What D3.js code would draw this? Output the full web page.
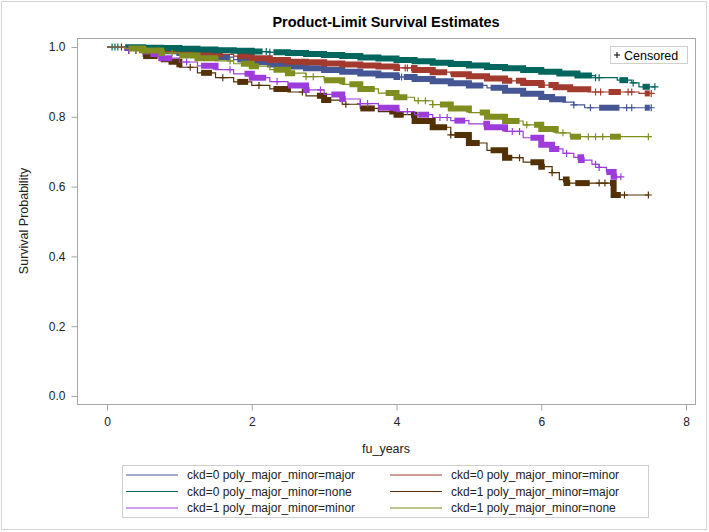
<!DOCTYPE html>
<html><head><meta charset="utf-8">
<script src="https://cdn.jsdelivr.net/npm/d3@7"></script>
<style>body{margin:0;background:#fff}svg{display:block;font-family:"Liberation Sans",Arial,sans-serif}</style>
</head><body><svg id="c" width="709" height="532"></svg>
<script>
// ---------- data ----------
const seriesNames = ["ckd=0 poly_major_minor=major","ckd=0 poly_major_minor=minor","ckd=0 poly_major_minor=none","ckd=1 poly_major_minor=major","ckd=1 poly_major_minor=minor","ckd=1 poly_major_minor=none"];
const seriesColors = ["#445694","#A23A2E","#01665E","#543005","#9D3CDB","#7F8E1F"];
const xTicks = [0,2,4,6,8];
const yTicks = [0,0.2,0.4,0.6,0.8,1.0];

// step points [time, survival]
const s1 = [[0,1],[0.25,0.997],[0.5,0.993],[0.75,0.988],[1,0.983],[1.25,0.977],[1.5,0.971],[1.75,0.964],[2,0.957],[2.25,0.95],[2.5,0.944],[2.75,0.939],[3,0.934],[3.25,0.929],[3.5,0.924],[3.75,0.919],[4,0.914],[4.25,0.908],[4.5,0.902],[4.75,0.896],[5,0.89],[5.25,0.883],[5.5,0.875],[5.75,0.866],[6,0.857],[6.15,0.85],[6.3,0.842],[6.45,0.834],[6.6,0.826]];
const s2 = [[0,1],[0.25,0.998],[0.5,0.996],[0.75,0.993],[1,0.989],[1.25,0.984],[1.5,0.979],[1.75,0.974],[2,0.968],[2.25,0.963],[2.5,0.958],[2.75,0.956],[3,0.953],[3.25,0.95],[3.5,0.947],[3.75,0.944],[4,0.94],[4.25,0.934],[4.5,0.928],[4.75,0.922],[5,0.916],[5.25,0.91],[5.5,0.903],[5.75,0.897],[6,0.891],[6.2,0.885],[6.4,0.879],[6.65,0.871],[7.35,0.867]];
const s3 = [[0,1],[0.25,0.999],[0.5,0.998],[0.75,0.997],[1,0.995],[1.25,0.993],[1.5,0.991],[1.75,0.989],[2,0.987],[2.25,0.985],[2.5,0.983],[2.75,0.98],[3,0.977],[3.25,0.974],[3.5,0.97],[3.75,0.967],[4,0.963],[4.25,0.959],[4.5,0.955],[4.75,0.951],[5,0.947],[5.25,0.943],[5.5,0.939],[5.75,0.934],[6,0.929],[6.25,0.924],[6.5,0.918],[6.75,0.912],[7.05,0.905],[7.25,0.897],[7.35,0.886]];
const s4 = [[0,1],[0.25,0.99],[0.5,0.974],[0.75,0.958],[1,0.942],[1.25,0.926],[1.5,0.912],[1.75,0.9],[2,0.89],[2.25,0.88],[2.5,0.871],[2.75,0.86],[3,0.848],[3.25,0.836],[3.5,0.824],[3.75,0.815],[4,0.806],[4.25,0.788],[4.5,0.77],[4.75,0.748],[5,0.725],[5.25,0.704],[5.5,0.683],[5.75,0.67],[6,0.657],[6.15,0.64],[6.25,0.62],[6.35,0.61],[7.0,0.576]];
const s5 = [[0,1],[0.25,0.992],[0.5,0.98],[0.75,0.968],[1,0.957],[1.25,0.946],[1.5,0.935],[1.75,0.923],[2,0.912],[2.25,0.901],[2.5,0.89],[2.75,0.877],[3,0.864],[3.25,0.851],[3.5,0.838],[3.75,0.826],[4,0.815],[4.25,0.806],[4.5,0.798],[4.75,0.789],[5,0.78],[5.25,0.77],[5.5,0.758],[5.75,0.74],[6,0.72],[6.15,0.708],[6.3,0.695],[6.45,0.684],[6.55,0.676],[6.7,0.664],[6.8,0.655],[6.9,0.642],[7.0,0.628]];
const s6 = [[0,1],[0.25,0.996],[0.5,0.99],[0.75,0.983],[1,0.976],[1.25,0.968],[1.5,0.96],[1.75,0.952],[2,0.945],[2.25,0.935],[2.5,0.925],[2.75,0.915],[3,0.905],[3.25,0.893],[3.5,0.88],[3.75,0.868],[4,0.856],[4.25,0.846],[4.5,0.835],[4.75,0.824],[5,0.812],[5.25,0.8],[5.5,0.788],[5.75,0.777],[6,0.765],[6.2,0.754],[6.4,0.743]];
const seriesEnd = [7.52, 7.52, 7.57, 7.48, 7.1, 7.48];

// isolated censored times
const c1 = [4.07,6.45,6.68,7.18,7.25,7.52];
const c2 = [4.12,4.15,6.75,6.82,7.2,7.25,7.52];
const c3 = [0.07,0.11,0.15,2.2,2.25,6.75,6.8,7.27,7.57];
const c4 = [0.2,0.3,0.4,1.15,1.6,2.1,2.7,3.3,4.75,5.7,6.15,6.8,6.88,7.15,7.48];
const c5 = [0.3,0.45,1.1,1.7,2.35,2.95,3.5,3.6,4.15,4.6,4.7,5.6,5.7,6.35,6.75,6.8,7.1];
const c6 = [0.9,1.7,2.75,2.85,4.3,4.4,4.5,5.8,6.3,6.65,6.75,6.85,7.48];
// time spans with densely overlapping censored marks
const d1 = [[0.6,1.7],[1.8,4.05],[4.1,5.2],[5.3,6.3],[6.8,7.08],[7.43,7.5]];
const d2 = [[0.5,1.6],[1.8,4.05],[4.2,4.7],[4.75,5.6],[5.65,6.05],[6.1,6.65],[6.93,7.1],[7.43,7.5]];
const d3s = [[0.25,2.15],[2.3,6.7],[7.08,7.2],[7.4,7.5]];
const d4 = [[0.5,0.7],[0.85,1.0],[1.3,1.45],[1.8,1.95],[2.3,2.5],[2.9,3.1],[3.5,3.7],[3.9,4.1],[4.2,4.7],[4.8,5.15],[5.3,5.6],[5.85,6.05],[6.3,6.4],[6.47,6.67],[6.95,7.1]];
const d5 = [[0.6,0.9],[1.3,1.5],[1.9,2.2],[2.5,2.8],[3.1,3.3],[3.75,4.0],[4.3,4.45],[4.8,4.95],[5.2,5.5],[5.85,6.25],[6.5,6.6],[6.9,7.05]];
const d6 = [[0.3,0.8],[1.0,1.5],[1.85,2.1],[2.3,2.6],[3.0,3.25],[3.35,3.7],[3.85,4.15],[4.6,5.0],[5.15,5.7],[5.9,6.2],[6.4,6.55],[6.95,7.1]];

const steps = [s1,s2,s3,s4,s5,s6];
const censors = [c1,c2,c3,c4,c5,c6];
const dense = [d1,d2,d3s,d4,d5,d6];

// ---------- drawing ----------
const svg = d3.select("#c");
const W = 709, H = 532;
const frame = {l:77, r:695, t:38, b:404};
const x = d3.scaleLinear().domain([0,8]).range([107,686]);
const y = d3.scaleLinear().domain([0,1]).range([396,47]);

svg.append("rect").attr("x",1.5).attr("y",1.5).attr("width",W-4).attr("height",H-4)
  .attr("fill","#fff").attr("stroke","#d4d4d4");

svg.append("text").attr("x",(frame.l+frame.r)/2).attr("y",27).attr("text-anchor","middle")
  .attr("font-size",14.5).attr("font-weight","bold").attr("fill","#000")
  .text("Product-Limit Survival Estimates");

svg.append("rect").attr("x",frame.l+0.5).attr("y",frame.t+0.5)
  .attr("width",frame.r-frame.l).attr("height",frame.b-frame.t)
  .attr("fill","none").attr("stroke","#a6a6a6");

// axes
const gx = svg.append("g").attr("transform",`translate(0,${frame.b+0.5})`)
  .call(d3.axisBottom(x).tickValues(xTicks).tickFormat(d3.format("d")).tickSize(6).tickPadding(7));
const gy = svg.append("g").attr("transform",`translate(${frame.l+0.5},0)`)
  .call(d3.axisLeft(y).tickValues(yTicks).tickFormat(d3.format(".1f")).tickSize(6).tickPadding(6));
[gx,gy].forEach(g=>{
  g.select(".domain").remove();
  g.selectAll(".tick line").attr("stroke","#a6a6a6");
  g.selectAll(".tick text").attr("font-size",12).attr("fill","#222")
    .attr("font-family","'Liberation Sans',Arial,sans-serif");
});

svg.append("text").attr("x",(frame.l+frame.r)/2).attr("y",453).attr("text-anchor","middle")
  .attr("font-size",12.5).attr("fill","#222").text("fu_years");
svg.append("text").attr("transform",`translate(28,${(frame.t+frame.b)/2}) rotate(-90)`)
  .attr("text-anchor","middle").attr("font-size",12.5).attr("fill","#222").text("Survival Probability");

// curves
const line = d3.line().x(d=>x(d[0])).y(d=>y(d[1])).curve(d3.curveStepAfter);
const valAt = (pts,t)=>{let v=pts[0][1];for(const p of pts){if(p[0]<=t)v=p[1];}return v;};
const plot = svg.append("g");
steps.forEach((pts,i)=>{
  const col = seriesColors[i];
  const full = pts.concat([[seriesEnd[i], pts[pts.length-1][1]]]);
  const g = plot.append("g");
  g.append("path").attr("d",line(full)).attr("fill","none").attr("stroke",col).attr("stroke-width",1.2);
  dense[i].forEach(([a,b])=>{
    const sub = [[a,valAt(pts,a)]].concat(pts.filter(p=>p[0]>a&&p[0]<=b)).concat([[b,valAt(pts,b)]]);
    g.append("path").attr("d",line(sub)).attr("fill","none").attr("stroke",col)
      .attr("stroke-width",6).attr("stroke-linecap","butt").attr("stroke-linejoin","miter");
  });
  g.selectAll(".cm").data(censors[i]).join("path")
    .attr("d",t=>{const cx=x(t), cy=y(valAt(pts,t));return `M${cx-3.5},${cy}H${cx+3.5}M${cx},${cy-3.5}V${cy+3.5}`;})
    .attr("stroke",col).attr("stroke-width",1.2).attr("fill","none");
});

// censored inset legend
const cg = svg.append("g");
cg.append("rect").attr("x",610.5).attr("y",46.5).attr("width",77).attr("height",17)
  .attr("fill","#fff").attr("stroke","#cfcfcf");
cg.append("path").attr("d","M614,55H620M617,52V58").attr("stroke","#000").attr("stroke-width",1);
cg.append("text").attr("x",624).attr("y",59.5).attr("font-size",12.5).attr("fill","#000").text("Censored");

// bottom legend
const lg = svg.append("g");
lg.append("rect").attr("x",122.5).attr("y",465.5).attr("width",526).attr("height",52)
  .attr("fill","#fff").attr("stroke","#cfcfcf");
const colX = [126,390], rowY = [475,491.5,508];
seriesNames.forEach((nm,i)=>{
  const cx = colX[i%2], cy = rowY[Math.floor(i/2)];
  lg.append("line").attr("x1",cx).attr("x2",cx+52).attr("y1",cy).attr("y2",cy)
    .attr("stroke",seriesColors[i]).attr("stroke-width",1.2);
  lg.append("text").attr("x",cx+61).attr("y",cy+4.3).attr("font-size",12).attr("fill","#222").text(nm);
});
</script></body></html>
